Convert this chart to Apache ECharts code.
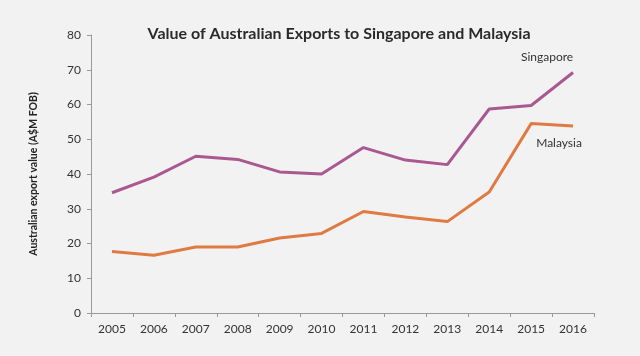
<!DOCTYPE html>
<html>
<head>
<meta charset="utf-8">
<script src="https://cdn.jsdelivr.net/npm/echarts@6/dist/echarts.min.js"></script>
<style>
html,body{margin:0;padding:0;background:#f2f2f2;}
#c{width:640px;height:356px;}
</style>
</head>
<body>
<div id="c"></div>
<script>
const years = ['2005','2006','2007','2008','2009','2010','2011','2012','2013','2014','2015','2016'];
const singapore = [34.6, 39.1, 45.1, 44.2, 40.6, 40.0, 47.6, 44.0, 42.7, 58.7, 59.7, 69.2];
const malaysia = [17.7, 16.6, 19.0, 19.0, 21.6, 22.9, 29.2, 27.6, 26.3, 34.8, 54.5, 53.8];
const yTicks = [0, 10, 20, 30, 40, 50, 60, 70, 80];

const font = 'Lato, "Open Sans", sans-serif';
function withEndLabel(vals, name, pos, offset) {
  return vals.map((v, i) => i === vals.length - 1
    ? { value: v, label: { show: true, formatter: name, position: pos, offset: offset, color: '#333', fontSize: 12, fontFamily: font } }
    : v);
}

const chart = echarts.init(document.getElementById('c'), null, { renderer: 'canvas' });
chart.setOption({
  backgroundColor: '#f2f2f2',
  animation: false,
  title: {
    text: 'Value of Australian Exports to Singapore and Malaysia',
    left: 334, top: 21, textAlign: 'center',
    textStyle: { fontFamily: font, fontSize: 16, fontWeight: 'bold', color: '#2a2a2a' }
  },
  grid: { left: 91, right: 46, top: 35, bottom: 43 },
  xAxis: {
    type: 'category',
    data: years,
    boundaryGap: true,
    axisLine: { lineStyle: { color: '#999', width: 1 } },
    axisTick: { show: true, length: 4, lineStyle: { color: '#999' } },
    axisLabel: { color: '#333', fontSize: 12, fontFamily: font, margin: 10 }
  },
  yAxis: {
    type: 'value',
    min: yTicks[0], max: yTicks[yTicks.length - 1], interval: 10,
    name: 'Australian export value (A$M FOB)',
    nameLocation: 'middle',
    nameGap: 52,
    nameTextStyle: { color: '#222', fontSize: 10.5, fontWeight: 'bold', fontFamily: font },
    axisLine: { show: true, lineStyle: { color: '#999', width: 1 } },
    axisTick: { show: true, length: 4, lineStyle: { color: '#999' } },
    axisLabel: { color: '#333', fontSize: 12, fontFamily: font, margin: 10 },
    splitLine: { show: false }
  },
  series: [
    {
      name: 'Singapore', type: 'line',
      data: withEndLabel(singapore, 'Singapore', 'top', [-26, -4]),
      symbol: 'circle', symbolSize: 0, showSymbol: true,
      lineStyle: { color: '#a9598f', width: 3 },
      itemStyle: { color: '#a9598f' }
    },
    {
      name: 'Malaysia', type: 'line',
      data: withEndLabel(malaysia, 'Malaysia', 'bottom', [-14, 6]),
      symbol: 'circle', symbolSize: 0, showSymbol: true,
      lineStyle: { color: '#e07a43', width: 3 },
      itemStyle: { color: '#e07a43' }
    }
  ]
});
</script>
</body>
</html>
